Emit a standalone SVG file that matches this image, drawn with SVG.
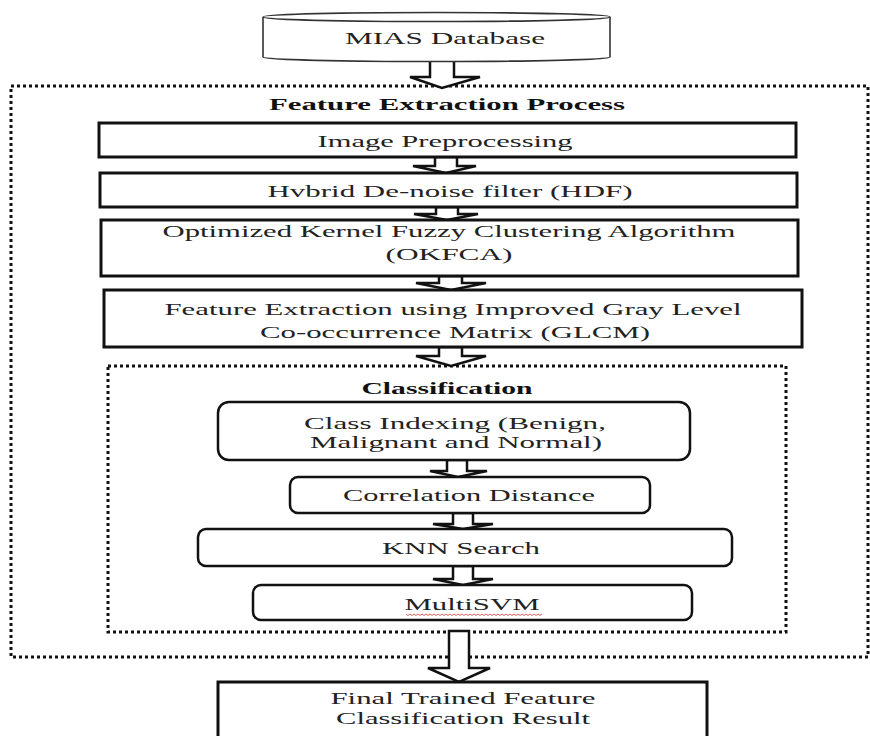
<svg xmlns="http://www.w3.org/2000/svg" width="870" height="736" viewBox="0 0 870 736">
<style>
.bg{fill:#ffffff}
.box{fill:#ffffff;stroke:#111;stroke-width:3}
.rbox{fill:#ffffff;stroke:#111;stroke-width:2.5}
.cyl{fill:#ffffff;stroke:#333;stroke-width:1.6}
.dash{fill:none;stroke:#111;stroke-width:3;stroke-dasharray:3 3}
.arr{fill:#ffffff;stroke:#111;stroke-width:2.5;stroke-linejoin:miter}
text{font-family:'Liberation Serif','Times New Roman',Times,serif;text-anchor:middle}
.t{font-size:17.5px;fill:#222}
.b{font-size:17.5px;font-weight:bold;fill:#111}
.sq{fill:none;stroke:#d05050;stroke-width:0.9}
</style>
<rect class="bg" x="0" y="0" width="870" height="736"/>

<g id="containers">
  <rect id="outer" class="dash" x="11" y="86" width="857" height="571"/>
  <rect id="inner" class="dash" x="108" y="366" width="678" height="266"/>
</g>

<g id="connectors">
  <polygon class="arr" points="430,60 430,77 410,77 442,88 480,77 454,77 454,60"/>
  <polygon class="arr" points="435,157 435,166 413,166 446,173 476,166 457,166 457,157"/>
  <polygon class="arr" points="436,207 436,214 414,214 447,220 478,214 458,214 458,207"/>
  <polygon class="arr" points="439,276 439,283 416,283 451,290 486,283 462,283 462,276"/>
  <polygon class="arr" points="439,347 439,356 416,356 451,366 486,356 462,356 462,347"/>
  <polygon class="arr" points="447,460 447,471 430,471 458,477 487,471 467,471 467,460"/>
  <polygon class="arr" points="453,513 453,524 433,524 463,529 493,524 473,524 473,513"/>
  <polygon class="arr" points="453,566 453,579 433,579 463,585 493,579 473,579 473,566"/>
  <polygon class="arr" points="449,631 449,668 428,668 459,682 490,668 469,668 469,631"/>
</g>

<g id="mias">
  <path class="cyl" d="M263,17 L263,57 A173.5,4.5 0 0 0 610,57 L610,17"/>
  <ellipse class="cyl" cx="436.5" cy="17" rx="173.5" ry="4.5"/>
  <text class="t" x="445" y="44" textLength="200" lengthAdjust="spacingAndGlyphs">MIAS Database</text>
</g>

<g id="fe-title">
  <text class="b" x="447" y="110" textLength="356" lengthAdjust="spacingAndGlyphs">Feature Extraction Process</text>
</g>

<g id="preproc">
  <rect class="box" x="99" y="123" width="697" height="34"/>
  <text class="t" x="445" y="147" textLength="255" lengthAdjust="spacingAndGlyphs">Image Preprocessing</text>
</g>

<g id="hdf">
  <rect class="box" x="100" y="173" width="697" height="34"/>
  <text class="t" x="450" y="197" textLength="365" lengthAdjust="spacingAndGlyphs">Hvbrid De-noise filter (HDF)</text>
</g>

<g id="okfca">
  <rect class="box" x="101" y="220" width="697" height="56"/>
  <text class="t" x="449" y="237" textLength="573" lengthAdjust="spacingAndGlyphs">Optimized Kernel Fuzzy Clustering Algorithm</text>
  <text class="t" x="449" y="260" textLength="127" lengthAdjust="spacingAndGlyphs">(OKFCA)</text>
</g>

<g id="glcm">
  <rect class="box" x="104" y="290" width="698" height="57"/>
  <text class="t" x="453" y="315" textLength="577" lengthAdjust="spacingAndGlyphs">Feature Extraction using Improved Gray Level</text>
  <text class="t" x="455" y="338" textLength="390" lengthAdjust="spacingAndGlyphs">Co-occurrence Matrix (GLCM)</text>
</g>

<g id="cls-title">
  <text class="b" x="447" y="394" textLength="171" lengthAdjust="spacingAndGlyphs">Classification</text>
</g>

<g id="classidx">
  <rect class="rbox" x="218" y="402" width="472" height="58" rx="11" ry="11"/>
  <text class="t" x="455" y="429" textLength="302" lengthAdjust="spacingAndGlyphs">Class Indexing (Benign,</text>
  <text class="t" x="456" y="448" textLength="292" lengthAdjust="spacingAndGlyphs">Malignant and Normal)</text>
</g>

<g id="corr">
  <rect class="rbox" x="290" y="477" width="360" height="36" rx="8" ry="8"/>
  <text class="t" x="469" y="501" textLength="252" lengthAdjust="spacingAndGlyphs">Correlation Distance</text>
</g>

<g id="knn">
  <rect class="rbox" x="198" y="529" width="534" height="37" rx="8" ry="8"/>
  <text class="t" x="461" y="554" textLength="158" lengthAdjust="spacingAndGlyphs">KNN Search</text>
</g>

<g id="multisvm">
  <rect class="rbox" x="253" y="585" width="439" height="35" rx="8" ry="8"/>
  <text class="t" x="472" y="610" textLength="135" lengthAdjust="spacingAndGlyphs">MultiSVM</text>
  <path class="sq" d="M406,614 l2,1.5 l2,-1.5 l2,1.5 l2,-1.5 l2,1.5 l2,-1.5 l2,1.5 l2,-1.5 l2,1.5 l2,-1.5 l2,1.5 l2,-1.5 l2,1.5 l2,-1.5 l2,1.5 l2,-1.5 l2,1.5 l2,-1.5 l2,1.5 l2,-1.5 l2,1.5 l2,-1.5 l2,1.5 l2,-1.5 l2,1.5 l2,-1.5 l2,1.5 l2,-1.5 l2,1.5 l2,-1.5 l2,1.5 l2,-1.5 l2,1.5 l2,-1.5 l2,1.5 l2,-1.5 l2,1.5 l2,-1.5 l2,1.5 l2,-1.5 l2,1.5 l2,-1.5 l2,1.5 l2,-1.5 l2,1.5 l2,-1.5 l2,1.5 l2,-1.5 l2,1.5 l2,-1.5 l2,1.5 l2,-1.5 l2,1.5 l2,-1.5 l2,1.5 l2,-1.5 l2,1.5 l2,-1.5 l2,1.5 l2,-1.5 l2,1.5 l2,-1.5 l2,1.5 l2,-1.5 l2,1.5 l2,-1.5 l2,1.5 l2,-1.5"/>
</g>

<g id="final">
  <rect class="box" x="218" y="682" width="489" height="58"/>
  <text class="t" x="463" y="704" textLength="265" lengthAdjust="spacingAndGlyphs">Final Trained Feature</text>
  <text class="t" x="463" y="724" textLength="254" lengthAdjust="spacingAndGlyphs">Classification Result</text>
</g>
</svg>
